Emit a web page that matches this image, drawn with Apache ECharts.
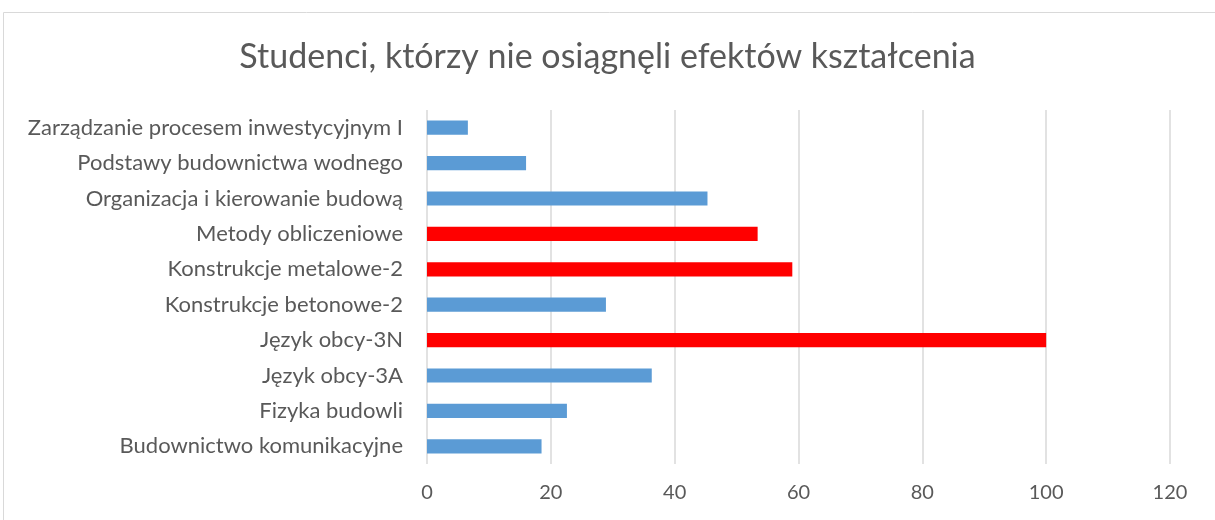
<!DOCTYPE html>
<html>
<head>
<meta charset="utf-8">
<script src="https://cdn.jsdelivr.net/npm/echarts@6/dist/echarts.min.js"></script>
<style>
  html, body { margin: 0; padding: 0; background: #fff; }
  #chart { width: 1215px; height: 520px; }
</style>
</head>
<body>
<div id="chart"></div>
<script>
// dane (od dołu wykresu do góry)
var categories = [
  'Budownictwo komunikacyjne',
  'Fizyka budowli',
  'Język obcy-3A',
  'Język obcy-3N',
  'Konstrukcje betonowe-2',
  'Konstrukcje metalowe-2',
  'Metody obliczeniowe',
  'Organizacja i kierowanie budową',
  'Podstawy budownictwa wodnego',
  'Zarządzanie procesem inwestycyjnym I'
];
var values = [18.5, 22.6, 36.3, 100, 28.9, 59, 53.4, 45.3, 16, 6.6];
// przedmioty wyróżnione na czerwono
var flagged = ['Język obcy-3N', 'Konstrukcje metalowe-2', 'Metody obliczeniowe'];
var xTicks = { min: 0, max: 120, interval: 20 };
var title = 'Studenci, którzy nie osiągnęli efektów kształcenia';

var font = 'Lato, "Noto Sans", sans-serif';
var chart = echarts.init(document.getElementById('chart'));

var option = {
  animation: false,
  textStyle: { fontFamily: font },
  title: {
    text: title,
    left: 'center',
    top: 35,
    textStyle: { fontFamily: font, fontSize: 34, fontWeight: 'normal', color: '#595959' }
  },
  graphic: [{
    type: 'rect',
    shape: { x: 3.5, y: 12.5, width: 1300, height: 600 },
    style: { fill: 'none', stroke: '#d9d9d9', lineWidth: 1 },
    silent: true
  }],
  grid: { left: 427, right: 45, top: 110, bottom: 56 },
  xAxis: {
    type: 'value',
    min: xTicks.min,
    max: xTicks.max,
    interval: xTicks.interval,
    axisLine: { show: false },
    axisTick: { show: false },
    axisLabel: { color: '#595959', fontSize: 20, margin: 19, fontFamily: font },
    splitLine: { lineStyle: { color: '#d9d9d9', width: 1.5 } }
  },
  yAxis: {
    type: 'category',
    data: categories,
    axisLine: { show: false },
    axisTick: { show: false },
    axisLabel: { color: '#595959', fontSize: 22, margin: 24, fontFamily: font }
  },
  series: [{
    type: 'bar',
    barWidth: '40%',
    data: values.map(function (v, i) {
      return {
        value: v,
        itemStyle: { color: flagged.indexOf(categories[i]) >= 0 ? '#ff0000' : '#5b9bd5' }
      };
    })
  }]
};

chart.setOption(option);
</script>
</body>
</html>
